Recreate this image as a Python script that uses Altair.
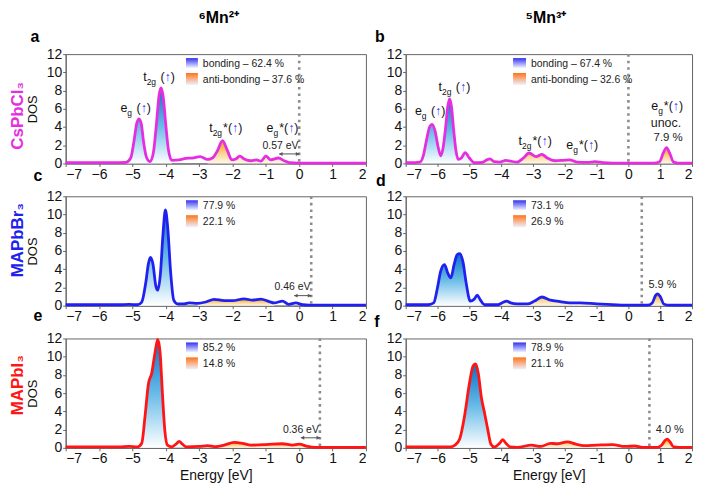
import altair as alt
import pandas as pd

NARROW = "Liberation Sans, Arial, sans-serif"
BOLD_FONT = "Liberation Sans, Arial, sans-serif"
NF = 1.0  # width factor of the face used

X_TICKS = [-7, -6, -5, -4, -3, -2, -1, 0, 1, 2]
Y_TICKS = [0, 2, 4, 6, 8, 10, 12]
COL_TITLES = ["⁶Mn²⁺", "⁵Mn³⁺"]
ROW_NAMES = ["CsPbCl₃", "MAPbBr₃", "MAPbI₃"]
ROW_COLORS = ["#e62ee0", "#2020f0", "#ff1515"]
LETTERS = ["a", "b", "c", "d", "e", "f"]

# ---------------- panel a : CsPbCl3, Mn2+ ----------------
E_A = [-7.0, -5.6, -5.2, -5.05, -4.95, -4.87, -4.8, -4.73, -4.67, -4.57, -4.47, -4.37, -4.28, -4.2,
       -4.14, -4.08, -4.0, -3.92, -3.82, -3.6, -3.4, -3.2, -2.97, -2.75, -2.6, -2.45, -2.3, -2.15,
       -2.02, -1.9, -1.78, -1.65, -1.45, -1.28, -1.15, -1.0, -0.85, -0.62, -0.45, -0.3, 0.0, 2.0]
DOS_A = [0.1, 0.1, 0.12, 0.6, 2.5, 4.4, 4.9, 4.3, 2.5, 0.6, 0.2, 1.2, 4.3, 7.5,
         8.3, 7.4, 4.3, 1.5, 0.35, 0.4, 0.55, 0.6, 0.75, 0.45, 0.6, 1.4, 2.5, 1.4,
         0.4, 0.5, 0.8, 0.5, 0.3, 0.4, 0.25, 0.8, 0.4, 0.6, 0.3, 0.1, 0.05, 0.05]
BOND_A = (-5.2, -3.82)
ANTI_A = [(-2.75, -0.3)]
FERMI_A = 0.0
LEGEND_A = ["bonding – 62.4 %", "anti-bonding – 37.6 %"]
LABELS_A = [("eg", -4.9, 5.7), ("t2g", -4.2, 9.1), ("t2g*", -2.2, 3.5), ("eg*", -0.5, 3.4)]
NOTES_A = [("0.57 eV", -0.56, 1.6, 10.5)]
ARROW_A = [(-0.6, 0.0, 1.05)]

# ---------------- panel b : CsPbCl3, Mn3+ ----------------
E_B = [-7.0, -6.7, -6.55, -6.45, -6.35, -6.25, -6.17, -6.08, -5.98, -5.9, -5.82, -5.75, -5.68, -5.62,
       -5.56, -5.49, -5.42, -5.35, -5.25, -5.13, -5.0, -4.85, -4.6, -4.45, -4.35, -4.22, -4.05, -3.85,
       -3.7, -3.5, -3.3, -3.12, -2.9, -2.72, -2.55, -2.3, -2.05, -1.85, -1.6, -1.3, -1.05, -0.8,
       -0.5, 0.8, 0.98, 1.1, 1.2, 1.3, 1.42, 1.55, 2.0]
DOS_B = [0.1, 0.1, 0.15, 0.8, 2.5, 4.0, 4.3, 3.6, 1.8, 0.85, 1.8, 3.8, 6.2, 7.1,
         6.2, 3.6, 1.4, 0.45, 0.6, 1.2, 0.6, 0.1, 0.12, 0.4, 0.5, 0.2, 0.15, 0.35,
         0.25, 0.15, 0.6, 1.15, 0.75, 1.0, 0.6, 0.3, 0.35, 0.4, 0.15, 0.12, 0.2, 0.1,
         0.05, 0.05, 0.2, 1.2, 1.75, 1.1, 0.15, 0.05, 0.05]
BOND_B = (-6.7, -4.85)
ANTI_B = [(-4.6, -4.05), (-3.5, -1.6), (0.8, 1.55)]
FERMI_B = 0.0
LEGEND_B = ["bonding – 67.4 %", "anti-bonding – 32.6 %"]
LABELS_B = [("eg", -6.23, 5.3), ("t2g", -5.47, 8.0), ("t2g*", -2.93, 2.0), ("eg*", -1.45, 1.55),
            ("eg*", 1.22, 5.9)]
NOTES_B = [("unoc.", 1.18, 4.05, 12.5), ("7.9 %", 1.25, 2.45, 11.5)]
ARROW_B = []

# ---------------- panel c : MAPbBr3, Mn2+ ----------------
E_C = [-7.0, -5.4, -5.1, -4.85, -4.72, -4.6, -4.52, -4.46, -4.38, -4.3, -4.24, -4.16, -4.08, -4.01,
       -3.94, -3.85, -3.76, -3.65, -3.45, -3.3, -3.05, -2.8, -2.55, -2.25, -2.0, -1.65, -1.4, -1.15,
       -0.9, -0.75, -0.5, -0.32, -0.1, 0.1, 0.3, 2.0]
DOS_C = [0.1, 0.1, 0.15, 0.1, 0.4, 2.5, 4.6, 5.3, 4.5, 2.2, 1.7, 3.5, 8.0, 10.5,
         8.5, 3.5, 0.6, 0.2, 0.2, 0.3, 0.25, 0.4, 0.7, 0.55, 0.55, 0.75, 0.6, 0.72,
         0.45, 0.3, 0.5, 0.15, 0.3, 0.1, 0.05, 0.05]
BOND_C = (-4.85, -3.65)
ANTI_C = [(-3.05, -0.75)]
FERMI_C = 0.36
LEGEND_C = ["77.9 %", "22.1 %"]
LABELS_C = []
NOTES_C = [("0.46 eV", -0.2, 1.75, 10.5)]
ARROW_C = [(-0.15, 0.36, 1.1)]

# ---------------- panel d : MAPbBr3, Mn3+ ----------------
E_D = [-7.0, -6.3, -6.12, -6.0, -5.9, -5.78, -5.68, -5.58, -5.48, -5.38, -5.3, -5.2, -5.1, -4.97,
       -4.85, -4.75, -4.65, -4.52, -4.1, -3.95, -3.83, -3.7, -3.5, -3.15, -2.95, -2.72, -2.45, -2.15,
       -1.85, -1.5, -1.0, -0.5, 0.1, 0.6, 0.75, 0.85, 0.92, 1.0, 1.12, 1.3, 2.0]
DOS_D = [0.1, 0.1, 0.3, 2.0, 3.8, 4.5, 3.6, 3.05, 4.5, 5.6, 5.7, 4.8, 2.5, 0.5,
         0.7, 1.15, 0.6, 0.1, 0.1, 0.35, 0.5, 0.3, 0.2, 0.2, 0.5, 0.95, 0.6, 0.45,
         0.3, 0.3, 0.2, 0.12, 0.05, 0.05, 0.3, 1.1, 1.3, 1.0, 0.15, 0.05, 0.05]
BOND_D = (-6.3, -4.52)
ANTI_D = [(-4.1, -3.5), (-3.15, -1.5), (0.6, 1.3)]
FERMI_D = 0.42
LEGEND_D = ["73.1 %", "26.9 %"]
LABELS_D = []
NOTES_D = [("5.9 %", 1.07, 1.9, 11)]
ARROW_D = []

# ---------------- panel e : MAPbI3, Mn2+ ----------------
E_E = [-7.0, -5.4, -5.1, -4.85, -4.72, -4.62, -4.52, -4.42, -4.32, -4.24, -4.17, -4.1, -4.03, -3.95,
       -3.82, -3.68, -3.6, -3.5, -3.38, -3.0, -2.75, -2.5, -2.25, -1.95, -1.7, -1.45, -1.0, -0.5,
       -0.2, 0.0, 0.25, 0.5, 2.0]
DOS_E = [0.1, 0.1, 0.15, 0.1, 0.5, 3.5, 7.0, 8.2, 10.5, 11.9, 10.5, 6.0, 2.0, 0.3,
         0.1, 0.45, 0.7, 0.4, 0.1, 0.15, 0.25, 0.12, 0.3, 0.6, 0.5, 0.3, 0.35, 0.45,
         0.3, 0.4, 0.15, 0.05, 0.05]
BOND_E = (-4.85, -3.82)
ANTI_E = [(-2.5, 0.5)]
FERMI_E = 0.62
LEGEND_E = ["85.2 %", "14.8 %"]
LABELS_E = []
NOTES_E = [("0.36 eV", 0.05, 1.65, 10.5)]
ARROW_E = [(0.05, 0.62, 1.1)]

# ---------------- panel f : MAPbI3, Mn3+ ----------------
E_F = [-7.0, -5.6, -5.45, -5.3, -5.15, -5.0, -4.88, -4.8, -4.72, -4.62, -4.52, -4.42, -4.32, -4.22,
       -4.05, -3.95, -3.85, -3.72, -3.5, -3.05, -2.75, -2.45, -2.25, -1.92, -1.65, -1.4, -1.0, -0.5,
       -0.1, 0.2, 0.45, 0.9, 1.05, 1.15, 1.22, 1.3, 1.42, 1.6, 2.0]
DOS_F = [0.1, 0.1, 0.3, 1.0, 3.5, 7.0, 9.0, 9.2, 8.2, 5.5, 3.8, 2.0, 0.4, 0.1,
         0.5, 0.9, 0.5, 0.1, 0.05, 0.3, 0.15, 0.5, 0.45, 0.65, 0.4, 0.25, 0.3, 0.35,
         0.15, 0.2, 0.05, 0.05, 0.3, 0.8, 0.95, 0.7, 0.1, 0.05, 0.05]
BOND_F = (-5.6, -4.22)
ANTI_F = [(-2.75, -1.4), (0.9, 1.6)]
FERMI_F = 0.66
LEGEND_F = ["78.9 %", "21.1 %"]
LABELS_F = []
NOTES_F = [("4.0 %", 1.3, 1.65, 11)]
ARROW_F = []

# ---------------- styling ----------------
BOND_FILL = [(0, "#0a70c4"), (0.5, "#68bbe8"), (1, "#ffffff")]
ANTI_FILL = [(0, "#f29a0c"), (0.55, "#fbd58c"), (1, "#fff8ec")]
LEG_BOND = [(0, "#3333ee"), (1, "#f4f6ff")]
LEG_ANTI = [(0, "#ff7417"), (1, "#eef1ff")]
ARROW_BLUE = "#3a3aff"
ANNOT_SIZE = 12.5
SUB_SIZE = 8.5
CHAR_W = {"e": .556, "t": .278, "g": .556, "2": .556, "(": .333, ")": .333, "*": .389, "↑": .5, " ": .278}
PIECES = {
    "eg": [("e", "M"), ("g", "S"), (" ", "M"), ("(", "M"), ("↑", "A"), (")", "M")],
    "t2g": [("t", "M"), ("2g", "S"), (" ", "M"), ("(", "M"), ("↑", "A"), (")", "M")],
    "t2g*": [("t", "M"), ("2g", "S"), ("*", "M"), ("(", "M"), ("↑", "A"), (")", "M")],
    "eg*": [("e", "M"), ("g", "S"), ("*", "M"), ("(", "M"), ("↑", "A"), (")", "M")],
}
H = 110
W_LEFT = 302
W_RIGHT = 288


def grad(stops):
    return alt.Gradient(gradient="linear",
                        stops=[alt.GradientStop(color=c, offset=o) for o, c in stops],
                        x1=0, x2=0, y1=0, y2=1)


def fill_df(E, D, ranges):
    rows = []
    for i, (lo, hi) in enumerate(ranges):
        for e, d in zip(E, D):
            if lo - 1e-9 <= e <= hi + 1e-9:
                rows.append({"E": e, "DOS": d, "seg": f"s{i}"})
    return pd.DataFrame(rows)


def text_width(txt, size):
    return sum(CHAR_W.get(ch, .5) for ch in txt) * size * NF


def panel(E, D, bond, antis, fermi, legend, labels, notes, arrows, color, left, bottom,
          letter, letter_pos, row_name=None, row_y=None, col_title=None, col_x=None):
    W = W_LEFT if left else W_RIGHT
    ppu = W / 9.0
    xs = alt.Scale(domain=[-7, 2], nice=False, zero=False)
    ys = alt.Scale(domain=[0, 12], nice=False, zero=True)
    xax = alt.Axis(values=X_TICKS, title="Energy [eV]" if bottom else None, grid=False)
    yax = alt.Axis(values=Y_TICKS, title="DOS" if left else None, grid=False)
    X = alt.X("E:Q", scale=xs, axis=xax)
    Y = alt.Y("DOS:Q", scale=ys, axis=yax)
    layers = []
    one = pd.DataFrame({"k": [0]})

    adf = fill_df(E, D, antis)
    layers.append(alt.Chart(adf).mark_area(interpolate="monotone", color=grad(ANTI_FILL))
                  .encode(x=X, y=Y, detail="seg:N"))
    bdf = fill_df(E, D, [bond])
    layers.append(alt.Chart(bdf).mark_area(interpolate="monotone", color=grad(BOND_FILL))
                  .encode(x=X, y=Y, detail="seg:N"))
    curve = pd.DataFrame({"E": E, "DOS": D})
    layers.append(alt.Chart(curve).mark_line(interpolate="monotone", color=color, strokeWidth=2.8)
                  .encode(x=X, y=Y))
    layers.append(alt.Chart(pd.DataFrame({"E": [fermi]}))
                  .mark_rule(color="#8d8d8d", strokeWidth=2.6, strokeDash=[2.6, 4]).encode(x=X))

    # arrows
    for x0, x1, yv in arrows:
        layers.append(alt.Chart(pd.DataFrame({"E": [x0], "E2": [x1], "DOS": [yv]}))
                      .mark_rule(color="#555555", strokeWidth=1)
                      .encode(x=X, x2="E2:Q", y=Y))
        tri = pd.DataFrame({"E": [x0 + 0.05, x1 - 0.05], "DOS": [yv, yv],
                            "shape": ["triangle-left", "triangle-right"]})
        layers.append(alt.Chart(tri).mark_point(filled=True, size=16, color="#555555", opacity=1)
                      .encode(x=X, y=Y, shape=alt.Shape("shape:N", scale=None)))

    # labels with subscripts
    rows = {"M": [], "S": [], "A": []}
    for key, xc, yb in labels:
        pieces = PIECES[key]
        offs = []
        cur = 0.0
        for txt, role in pieces:
            size = SUB_SIZE if role == "S" else ANNOT_SIZE
            offs.append(cur)
            cur += text_width(txt, size) + (1.0 if role == "S" else 0.0)
        for (txt, role), o in zip(pieces, offs):
            if txt.strip() == "":
                continue
            rows[role].append({"E": xc + (o - cur / 2) / ppu, "DOS": yb, "t": txt})
    if rows["M"]:
        layers.append(alt.Chart(pd.DataFrame(rows["M"]))
                      .mark_text(align="left", baseline="alphabetic", font=NARROW,
                                 fontSize=ANNOT_SIZE, color="#111111")
                      .encode(x=X, y=Y, text="t:N"))
        layers.append(alt.Chart(pd.DataFrame(rows["S"]))
                      .mark_text(align="left", baseline="alphabetic", font=NARROW,
                                 fontSize=SUB_SIZE, color="#111111", dy=4)
                      .encode(x=X, y=Y, text="t:N"))
        layers.append(alt.Chart(pd.DataFrame(rows["A"]))
                      .mark_text(align="left", baseline="alphabetic", font=NARROW,
                                 fontSize=ANNOT_SIZE, color=ARROW_BLUE)
                      .encode(x=X, y=Y, text="t:N"))
    for txt, xc, yb, size in notes:
        layers.append(alt.Chart(pd.DataFrame({"E": [xc], "DOS": [yb], "t": [txt]}))
                      .mark_text(align="center", baseline="alphabetic", font=NARROW,
                                 fontSize=size, color="#222222")
                      .encode(x=X, y=Y, text="t:N"))

    # legend
    sx0, sx1, tx = (121, 133, 138) if left else (108, 121, 126)
    for (y0, y1), g, txt in zip([(4, 14), (19, 31)], [LEG_BOND, LEG_ANTI], legend):
        layers.append(alt.Chart(one).mark_rect(color=grad(g))
                      .encode(x=alt.value(sx0), x2=alt.value(sx1), y=alt.value(y0), y2=alt.value(y1)))
        layers.append(alt.Chart(one).mark_text(align="left", baseline="middle", font=NARROW,
                                               fontSize=10.5, color="#222222")
                      .encode(x=alt.value(tx), y=alt.value((y0 + y1) / 2 + 1), text=alt.value(txt)))

    # letter
    layers.append(alt.Chart(one).mark_text(align="center", baseline="middle", font=BOLD_FONT,
                                           fontSize=16, fontWeight="bold", color="#000000")
                  .encode(x=alt.value(letter_pos[0]), y=alt.value(letter_pos[1]), text=alt.value(letter)))
    if row_name is not None:
        layers.append(alt.Chart(one).mark_text(align="center", baseline="middle", font=BOLD_FONT,
                                               fontSize=17, fontWeight="bold", color=color, angle=270)
                      .encode(x=alt.value(-48), y=alt.value(row_y), text=alt.value(row_name)))
    if col_title is not None:
        layers.append(alt.Chart(one).mark_text(align="center", baseline="middle", font=BOLD_FONT,
                                               fontSize=16, fontWeight="bold", color="#000000")
                      .encode(x=alt.value(col_x), y=alt.value(-36), text=alt.value(col_title)))
    return alt.layer(*layers).properties(width=W, height=H)


pa = panel(E_A, DOS_A, BOND_A, ANTI_A, FERMI_A, LEGEND_A, LABELS_A, NOTES_A, ARROW_A, ROW_COLORS[0],
           True, False, LETTERS[0], (-31, -17), ROW_NAMES[0], 62, COL_TITLES[0], 154)
pb = panel(E_B, DOS_B, BOND_B, ANTI_B, FERMI_B, LEGEND_B, LABELS_B, NOTES_B, ARROW_B, ROW_COLORS[0],
           False, False, LETTERS[1], (-26, -17), None, None, COL_TITLES[1], 141)
pc = panel(E_C, DOS_C, BOND_C, ANTI_C, FERMI_C, LEGEND_C, LABELS_C, NOTES_C, ARROW_C, ROW_COLORS[1],
           True, False, LETTERS[2], (-28, -20), ROW_NAMES[1], 44)
pd_ = panel(E_D, DOS_D, BOND_D, ANTI_D, FERMI_D, LEGEND_D, LABELS_D, NOTES_D, ARROW_D, ROW_COLORS[1],
            False, False, LETTERS[3], (-25, -15))
pe = panel(E_E, DOS_E, BOND_E, ANTI_E, FERMI_E, LEGEND_E, LABELS_E, NOTES_E, ARROW_E, ROW_COLORS[2],
           True, True, LETTERS[4], (-28, -23), ROW_NAMES[2], 47)
pf = panel(E_F, DOS_F, BOND_F, ANTI_F, FERMI_F, LEGEND_F, LABELS_F, NOTES_F, ARROW_F, ROW_COLORS[2],
           False, True, LETTERS[5], (-29, -17))

chart = (alt.concat(pa, pb, pc, pd_, pe, pf, columns=2, bounds="flush", align="each",
                    spacing=alt.RowColnumber(row=33, column=40), padding=0)
         .configure_view(stroke="#666666", strokeWidth=1)
         .configure_axis(grid=False, domainColor="#666666", tickColor="#666666", tickSize=3,
                         labelFont=NARROW, titleFont=NARROW, labelFontSize=14, titleFontSize=14,
                         labelColor="#111111", titleColor="#111111", titleFontWeight="normal",
                         labelPadding=1)
         .configure_axisY(titlePadding=7, titleFontSize=13)
         .configure_axisX(titlePadding=3))

chart.save("out.html", embed_options={"renderer": "svg", "actions": False})
